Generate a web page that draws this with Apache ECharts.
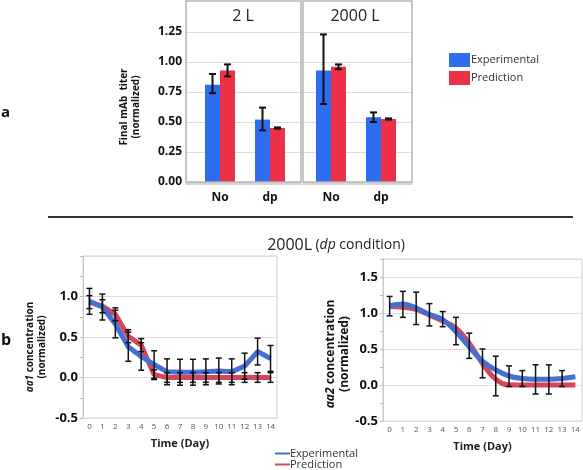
<!DOCTYPE html>
<html>
<head>
<meta charset="utf-8">
<script src="https://cdn.jsdelivr.net/npm/echarts@6/dist/echarts.min.js"></script>
<style>
html,body{margin:0;padding:0;background:#fff;}
#c{width:583px;height:470px;}
</style>
</head>
<body>
<div id="c"></div>
<script>
// ---- Panel a: final mAb titer ----
const titerCats = ['No', 'dp'];
const panelNames = ['2 L', '2000 L'];
const exp2L = [0.81, 0.52];
const exp2LLow = [0.74, 0.43];
const exp2LHigh = [0.90, 0.62];
const pred2L = [0.93, 0.45];
const pred2LLow = [0.88, 0.445];
const pred2LHigh = [0.98, 0.455];
const exp2000 = [0.93, 0.54];
const exp2000Low = [0.65, 0.50];
const exp2000High = [1.23, 0.58];
const pred2000 = [0.96, 0.525];
const pred2000Low = [0.94, 0.52];
const pred2000High = [0.98, 0.53];

// ---- Panel b: aa concentrations (2000L, dp) ----
const days = ['0','1','2','3','4','5','6','7','8','9','10','11','12','13','14'];
const aa1Exp = [0.94, 0.87, 0.66, 0.38, 0.26, 0.16, 0.07, 0.065, 0.065, 0.07, 0.08, 0.07, 0.14, 0.32, 0.235];
const aa1ExpErr = [0.16, 0.16, 0.17, 0.18, 0.17, 0.17, 0.16, 0.16, 0.16, 0.16, 0.16, 0.16, 0.16, 0.165, 0.16];
const aa1Pred = [0.93, 0.88, 0.78, 0.51, 0.40, 0.035, 0, 0, 0, 0, 0, 0, 0, 0, 0];
const aa1PredErr = [0.08, 0.08, 0.08, 0.08, 0.08, 0.06, 0.06, 0.06, 0.06, 0.06, 0.06, 0.06, 0.06, 0.06, 0.06];
const aa2Exp = [1.10, 1.125, 1.07, 0.98, 0.91, 0.74, 0.53, 0.33, 0.21, 0.125, 0.09, 0.08, 0.08, 0.09, 0.115];
const aa2ExpLow = [0.96, 0.94, 0.84, 0.82, 0.81, 0.56, 0.37, 0.10, -0.15, -0.02, -0.02, -0.125, -0.125, -0.02, null];
const aa2ExpHigh = [1.23, 1.30, 1.29, 1.13, 1.02, 0.94, 0.72, 0.50, 0.40, 0.265, 0.20, 0.28, 0.28, 0.20, null];
const aa2Pred = [1.09, 1.08, 1.05, 0.97, 0.89, 0.79, 0.58, 0.30, 0.08, 0.0, 0, 0, 0, 0, 0];

const FONT = '"Open Sans", "Noto Sans", sans-serif';
const BAR_BLUE = '#2d6df0', BAR_RED = '#ec3047';
const LINE_BLUE = '#4470d6', LINE_RED = '#d4475a';

function errSeries(name, xi, yi, data, offset, capW, lw) {
  return {
    type: 'custom', name: name, xAxisIndex: xi, yAxisIndex: yi, z: 10, silent: true,
    data: data,
    renderItem: function (params, api) {
      const x = api.value(0), lo = api.value(1), hi = api.value(2);
      const a = api.coord([x, lo]), b = api.coord([x, hi]);
      const cx = a[0] + offset;
      const st = { stroke: '#111', lineWidth: lw };
      return { type: 'group', children: [
        { type: 'line', shape: { x1: cx, y1: a[1], x2: cx, y2: b[1] }, style: st },
        { type: 'line', shape: { x1: cx - capW / 2, y1: a[1], x2: cx + capW / 2, y2: a[1] }, style: st },
        { type: 'line', shape: { x1: cx - capW / 2, y1: b[1], x2: cx + capW / 2, y2: b[1] }, style: st }
      ]};
    }
  };
}
function barPairs(vals) { return vals.map((v, i) => [i, v]); }
function lohi(lo, hi) { return lo.map((l, i) => [i, l, hi[i]]).filter(d => d[1] !== null); }
function pm(vals, err) { return vals.map((v, i) => [i, v - err[i], v + err[i]]); }

const chart = echarts.init(document.getElementById('c'), null, { renderer: 'canvas' });

const topX = (idx, min, max) => ({
  type: 'value', gridIndex: idx, min: min, max: max,
  splitLine: { show: false }, axisTick: { show: false },
  axisLine: { show: true, onZero: false, lineStyle: { color: '#c8c8c8', width: 1.5 } },
  offset: 2,
  axisLabel: { customValues: [0, 1], formatter: v => titerCats[Math.round(v)], fontFamily: FONT,
    fontWeight: 'bold', fontSize: 12, color: '#111', margin: 8 }
});
const topY = (idx, showLabels) => ({
  type: 'value', gridIndex: idx, min: 0, max: 1.25, interval: 0.25,
  axisLine: { show: false }, axisTick: { show: false },
  splitLine: { lineStyle: { color: '#dcdcdc', width: 1 } },
  axisLabel: { show: showLabels, formatter: v => v.toFixed(2), fontFamily: FONT, fontWeight: 'bold', fontSize: 12, color: '#111', margin: 4 },
  name: showLabels ? 'Final mAb  titer\n(normalized)' : '', nameLocation: 'middle', nameGap: 44,
  nameTextStyle: { fontFamily: FONT, fontWeight: 'bold', fontSize: 10, color: '#111', lineHeight: 12 }
});
const botX = (idx) => ({
  type: 'category', gridIndex: idx, data: days, boundaryGap: true,
  axisLine: { show: false }, axisTick: { show: false }, splitLine: { show: false },
  axisLabel: { fontFamily: FONT, fontSize: 8, color: '#555', margin: 5, interval: 0 },
  name: 'Time (Day)', nameLocation: 'middle', nameGap: 20,
  nameTextStyle: { fontFamily: FONT, fontWeight: 'bold', fontSize: 11, color: '#222' }
});
const botY = (idx, max, name, fs, gap, pad) => ({
  type: 'value', gridIndex: idx, min: -0.5, max: max, interval: 0.5,
  axisLine: { show: true, lineStyle: { color: '#c8c8c8' } },
  axisTick: { show: true, length: 3, lineStyle: { color: '#bbb' } },
  minorTick: { show: true, splitNumber: 2, length: 3, lineStyle: { color: '#bbb' } },
  splitLine: { lineStyle: { color: '#dedede' } },
  axisLabel: { showMaxLabel: false, formatter: v => v.toFixed(1), fontFamily: FONT, fontWeight: 'bold', fontSize: 13, color: '#111', margin: 5 },
  name: name, nameLocation: 'middle', nameGap: gap,
  nameTextStyle: { fontFamily: FONT, fontWeight: 'bold', fontSize: fs, color: '#111', lineHeight: fs + 2, padding: pad,
    rich: { i: { fontFamily: FONT, fontWeight: 'bold', fontStyle: 'italic', fontSize: fs, color: '#111', lineHeight: fs + 2 } } }
});
const lineLegend = (name, color, top) => ({
  orient: 'vertical', left: 275, top: top, padding: 0, itemWidth: 15, itemHeight: 2, icon: 'rect',
  textStyle: { fontFamily: FONT, fontSize: 11, color: '#333', padding: [0, 0, 0, -5] },
  data: [ { name: name, itemStyle: { color: color } } ]
});

const option = {
  animation: false,
  backgroundColor: '#fff',
  grid: [
    { left: 186, top: 32, width: 115, height: 150 },
    { left: 303, top: 32, width: 109, height: 150 },
    { left: 83, top: 256, width: 194, height: 162, show: true, borderColor: '#cfcfcf', borderWidth: 1 },
    { left: 383, top: 259, width: 199, height: 162, show: true, borderColor: '#cfcfcf', borderWidth: 1 }
  ],
  xAxis: [ topX(0, -0.68, 1.62), topX(1, -0.56, 1.62), botX(2), botX(3) ],
  yAxis: [ topY(0, true), topY(1, false),
    botY(2, 1.5, '{i|aa1} concentration\n(normalized)', 10, 35, [0, 20, 0, 0]),
    botY(3, 1.75, '{i|aa2} concentration\n(normalized)', 12, 17, [0, 28, 0, 0]) ],
  legend: [
    { orient: 'vertical', left: 444, top: 48, itemWidth: 21, itemHeight: 14, itemGap: 4, icon: 'rect',
      textStyle: { fontFamily: FONT, fontSize: 11, color: '#333', padding: [0, 0, 0, -4] },
      data: [ { name: 'Experimental', itemStyle: { color: BAR_BLUE } }, { name: 'Prediction', itemStyle: { color: BAR_RED } } ] },
    lineLegend('Experimental', LINE_BLUE, 448),
    lineLegend('Prediction', LINE_RED, 459)
  ],
  series: [
    { type: 'bar', name: 'Experimental', xAxisIndex: 0, yAxisIndex: 0, data: barPairs(exp2L), barWidth: 15, barGap: '0%', itemStyle: { color: BAR_BLUE } },
    { type: 'bar', name: 'Prediction', xAxisIndex: 0, yAxisIndex: 0, data: barPairs(pred2L), barWidth: 15, barGap: '0%', itemStyle: { color: BAR_RED } },
    { type: 'bar', name: 'Experimental', xAxisIndex: 1, yAxisIndex: 1, data: barPairs(exp2000), barWidth: 15, barGap: '0%', itemStyle: { color: BAR_BLUE } },
    { type: 'bar', name: 'Prediction', xAxisIndex: 1, yAxisIndex: 1, data: barPairs(pred2000), barWidth: 15, barGap: '0%', itemStyle: { color: BAR_RED } },
    errSeries('e1', 0, 0, lohi(exp2LLow, exp2LHigh), -7.5, 7, 2),
    errSeries('e2', 0, 0, lohi(pred2LLow, pred2LHigh), 7.5, 7, 2),
    errSeries('e3', 1, 1, lohi(exp2000Low, exp2000High), -7.5, 7, 2),
    errSeries('e4', 1, 1, lohi(pred2000Low, pred2000High), 7.5, 7, 2),

    { type: 'line', name: 'Prediction', xAxisIndex: 2, yAxisIndex: 2, data: aa1Pred, symbol: 'none', lineStyle: { color: LINE_RED, width: 5 }, itemStyle: { color: LINE_RED } },
    { type: 'line', name: 'Experimental', xAxisIndex: 2, yAxisIndex: 2, data: aa1Exp, symbol: 'none', lineStyle: { color: LINE_BLUE, width: 5 }, itemStyle: { color: LINE_BLUE } },
    errSeries('e5', 2, 2, pm(aa1Pred, aa1PredErr), 0, 6, 1.5),
    errSeries('e6', 2, 2, pm(aa1Exp, aa1ExpErr), 0, 6, 1.5),

    { type: 'line', name: 'Prediction', xAxisIndex: 3, yAxisIndex: 3, data: aa2Pred, symbol: 'none', smooth: 0.4, lineStyle: { color: LINE_RED, width: 5 }, itemStyle: { color: LINE_RED } },
    { type: 'line', name: 'Experimental', xAxisIndex: 3, yAxisIndex: 3, data: aa2Exp, symbol: 'none', smooth: 0.4, lineStyle: { color: LINE_BLUE, width: 5 }, itemStyle: { color: LINE_BLUE } },
    errSeries('e7', 3, 3, lohi(aa2ExpLow, aa2ExpHigh), 0, 6, 1.5)
  ],
  graphic: [
    { type: 'rect', shape: { x: 186, y: 1, width: 115, height: 181 }, style: { fill: null, stroke: '#b4b4b4', lineWidth: 1.5 }, z: 5 },
    { type: 'rect', shape: { x: 303, y: 1, width: 109, height: 181 }, style: { fill: null, stroke: '#b4b4b4', lineWidth: 1.5 }, z: 5 },
    { type: 'text', x: 243, y: 16, style: { text: panelNames[0], font: '16px ' + FONT, fill: '#222', textAlign: 'center', textVerticalAlign: 'middle' } },
    { type: 'text', x: 355, y: 16, style: { text: panelNames[1], font: '16px ' + FONT, fill: '#222', textAlign: 'center', textVerticalAlign: 'middle' } },
    { type: 'text', x: 1, y: 113, style: { text: 'a', font: 'bold 15px ' + FONT, fill: '#111', textVerticalAlign: 'middle' } },
    { type: 'text', x: 1, y: 340, style: { text: 'b', font: 'bold 16px ' + FONT, fill: '#111', textVerticalAlign: 'middle' } },
    { type: 'line', shape: { x1: 48, y1: 217, x2: 573, y2: 217 }, style: { stroke: '#333', lineWidth: 2 } },
    { type: 'text', x: 336, y: 245, style: {
        text: '{a|2000L} {b|(}{i|dp}{b| condition)}', textAlign: 'center', textVerticalAlign: 'middle',
        rich: {
          a: { fontFamily: FONT, fontSize: 16, fill: '#222', color: '#222' },
          b: { fontFamily: FONT, fontSize: 14, fill: '#222', color: '#222' },
          i: { fontFamily: FONT, fontSize: 14, fontStyle: 'italic', fill: '#222', color: '#222' }
        } } }
  ]
};
chart.setOption(option);
</script>
</body>
</html>
